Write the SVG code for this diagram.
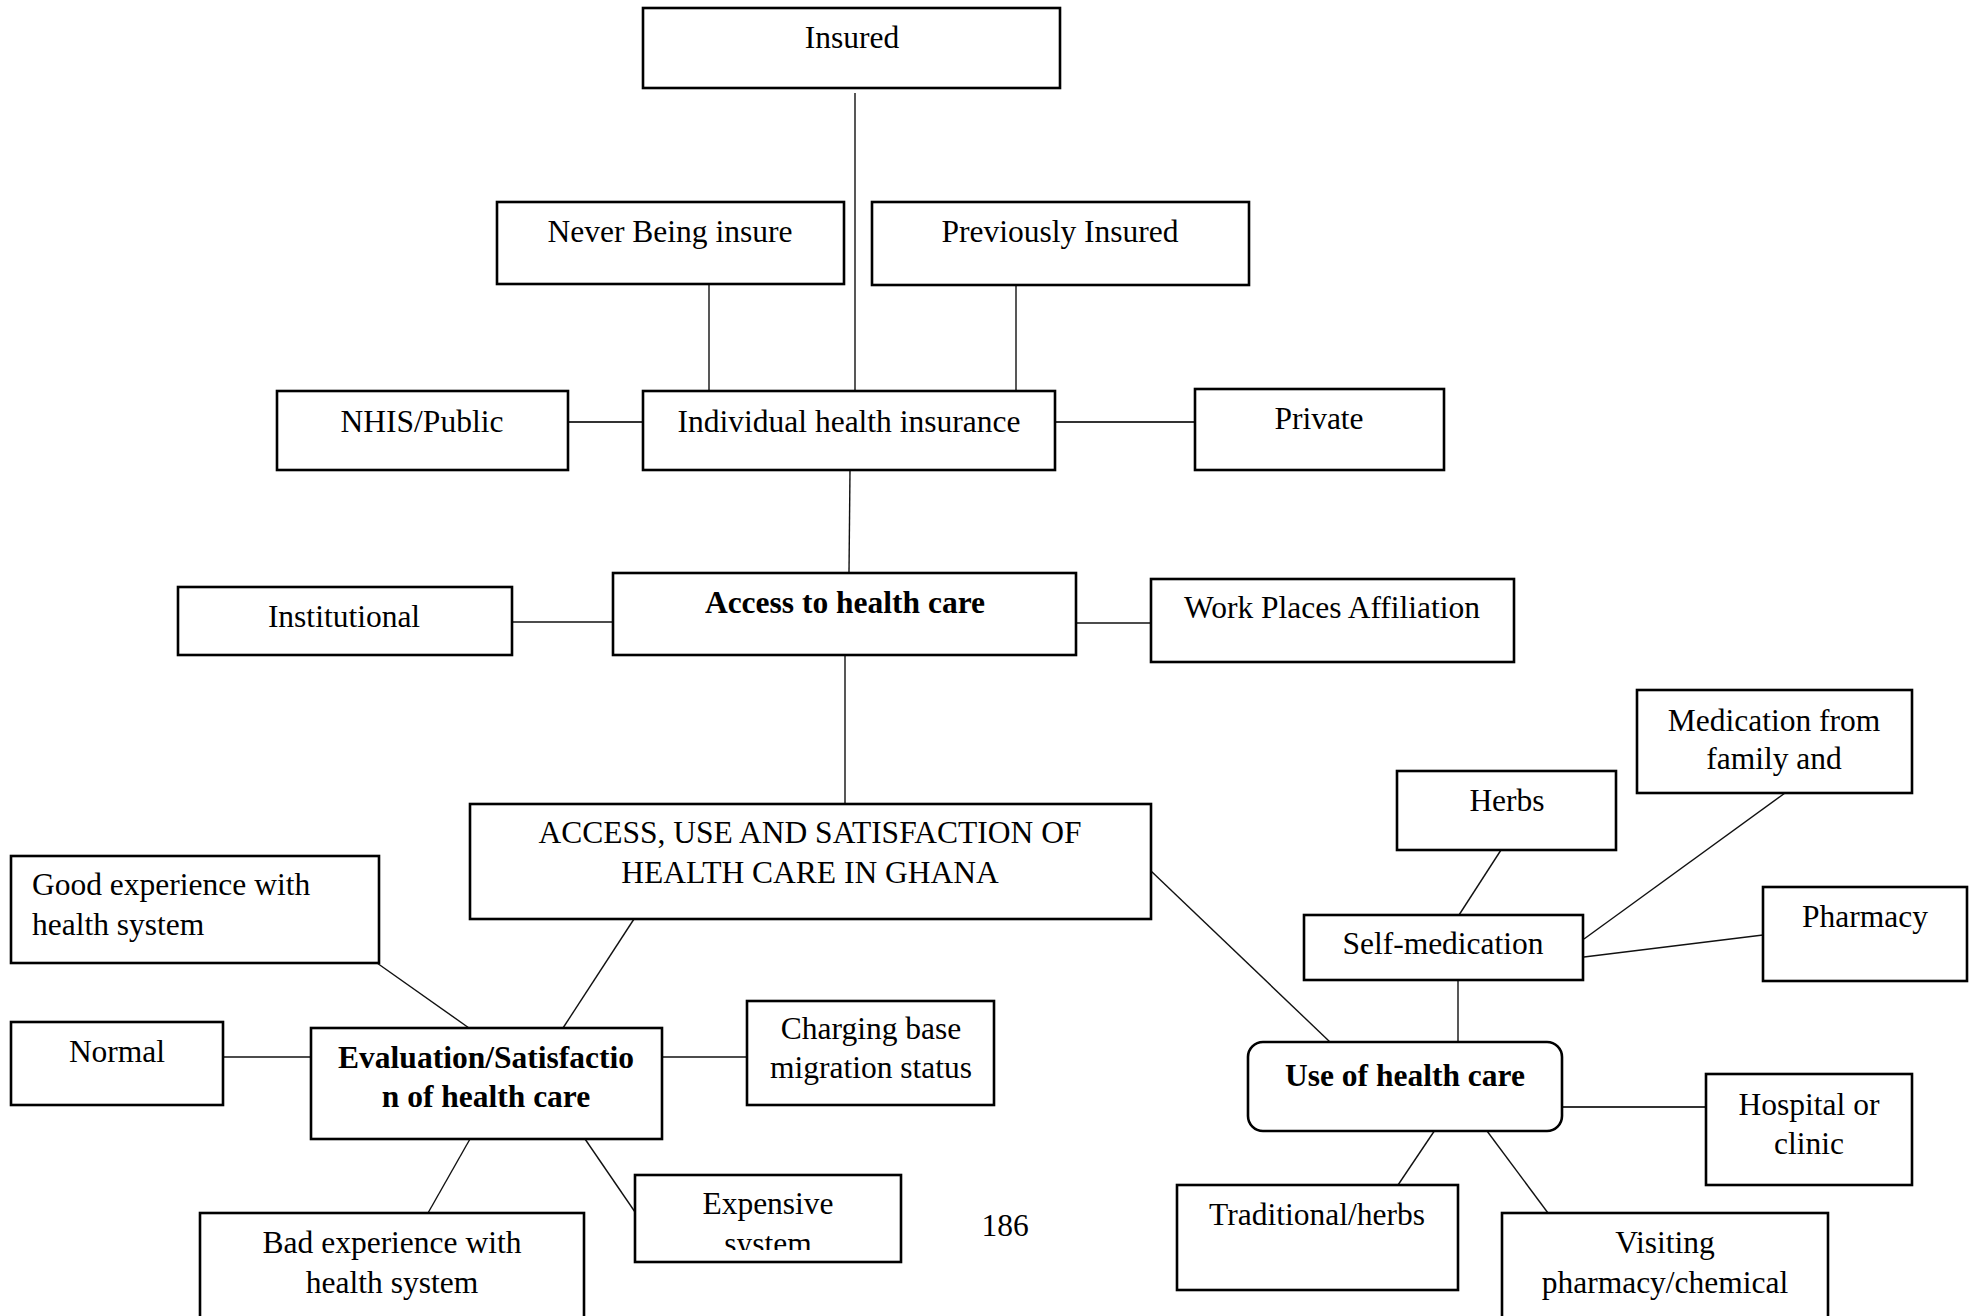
<svg xmlns="http://www.w3.org/2000/svg" width="1976" height="1316" viewBox="0 0 1976 1316">
  <style>
    .box { fill: #fff; stroke: #000; stroke-width: 2.6; }
    .t { font-family: "Liberation Serif", "Times New Roman", serif; font-size: 31.5px; fill: #000; text-anchor: middle; }
    .b { font-weight: bold; }
    .l { text-anchor: start; }
    .c line { stroke: #111; stroke-width: 1.4; }
    .c .thick { stroke: #333; stroke-width: 2; }
  </style>
  <defs>
    <clipPath id="clip-expensive">
      <rect x="635" y="1175" width="266" height="75"/>
    </clipPath>
  </defs>
  <rect width="1976" height="1316" fill="#fff"/>

  <!-- connectors -->
  <g id="connectors" class="c">
    <line x1="855" y1="93" x2="855" y2="391"/>
    <line x1="709" y1="284" x2="709" y2="391"/>
    <line x1="1016" y1="285" x2="1016" y2="391"/>
    <line class="thick" x1="568" y1="422" x2="643" y2="422"/>
    <line class="thick" x1="1055" y1="422" x2="1195" y2="422"/>
    <line x1="850" y1="470" x2="849" y2="573"/>
    <line x1="512" y1="622" x2="613" y2="622"/>
    <line x1="1076" y1="623" x2="1151" y2="623"/>
    <line x1="845" y1="655" x2="845" y2="804"/>
    <line x1="634" y1="919" x2="563" y2="1028"/>
    <line x1="1151" y1="871" x2="1330" y2="1042"/>
    <line x1="377" y1="963" x2="469" y2="1028"/>
    <line x1="223" y1="1057" x2="331" y2="1057"/>
    <line x1="662" y1="1057" x2="747" y2="1057"/>
    <line x1="470" y1="1139" x2="428" y2="1213"/>
    <line x1="585" y1="1139" x2="635" y2="1212"/>
    <line x1="1501" y1="850" x2="1459" y2="915"/>
    <line x1="1785" y1="793" x2="1584" y2="939"/>
    <line x1="1584" y1="957" x2="1763" y2="935"/>
    <line x1="1458" y1="980" x2="1458" y2="1042"/>
    <line class="thick" x1="1562" y1="1107" x2="1706" y2="1107"/>
    <line x1="1437" y1="1127" x2="1398" y2="1185"/>
    <line x1="1487" y1="1131" x2="1548" y2="1213"/>
  </g>

  <!-- insurance branch -->
  <g id="insured">
    <rect class="box" x="643" y="8" width="417" height="80"/>
    <text class="t" x="852" y="48">Insured</text>
  </g>
  <g id="never-insured">
    <rect class="box" x="497" y="202" width="347" height="82"/>
    <text class="t" x="670" y="242">Never Being insure</text>
  </g>
  <g id="previously-insured">
    <rect class="box" x="872" y="202" width="377" height="83"/>
    <text class="t" x="1060" y="242">Previously Insured</text>
  </g>
  <g id="nhis">
    <rect class="box" x="277" y="391" width="291" height="79"/>
    <text class="t" x="422" y="432">NHIS/Public</text>
  </g>
  <g id="individual">
    <rect class="box" x="643" y="391" width="412" height="79"/>
    <text class="t" x="849" y="432">Individual health insurance</text>
  </g>
  <g id="private">
    <rect class="box" x="1195" y="389" width="249" height="81"/>
    <text class="t" x="1319" y="429">Private</text>
  </g>

  <!-- access branch -->
  <g id="institutional">
    <rect class="box" x="178" y="587" width="334" height="68"/>
    <text class="t" x="344" y="627">Institutional</text>
  </g>
  <g id="access">
    <rect class="box" x="613" y="573" width="463" height="82"/>
    <text class="t b" x="845" y="613">Access to health care</text>
  </g>
  <g id="workplace">
    <rect class="box" x="1151" y="579" width="363" height="83"/>
    <text class="t" x="1332" y="618">Work Places Affiliation</text>
  </g>

  <!-- central topic -->
  <g id="topic">
    <rect class="box" x="470" y="804" width="681" height="115"/>
    <text class="t" x="810" y="843">ACCESS, USE AND SATISFACTION OF</text>
    <text class="t" x="810" y="883">HEALTH CARE IN GHANA</text>
  </g>

  <!-- satisfaction branch -->
  <g id="good-experience">
    <rect class="box" x="11" y="856" width="368" height="107"/>
    <text class="t l" x="32" y="895">Good experience with</text>
    <text class="t l" x="32" y="935">health system</text>
  </g>
  <g id="normal">
    <rect class="box" x="11" y="1022" width="212" height="83"/>
    <text class="t" x="117" y="1062">Normal</text>
  </g>
  <g id="evaluation">
    <rect class="box" x="311" y="1028" width="351" height="111"/>
    <text class="t b" x="486" y="1068">Evaluation/Satisfactio</text>
    <text class="t b" x="486" y="1107">n of health care</text>
  </g>
  <g id="charging">
    <rect class="box" x="747" y="1001" width="247" height="104"/>
    <text class="t" x="871" y="1039">Charging base</text>
    <text class="t" x="871" y="1078">migration status</text>
  </g>
  <g id="expensive">
    <rect class="box" x="635" y="1175" width="266" height="87"/>
    <text class="t" x="768" y="1214">Expensive</text>
    <text class="t" x="768" y="1254" clip-path="url(#clip-expensive)">system</text>
  </g>
  <g id="bad-experience">
    <rect class="box" x="200" y="1213" width="384" height="120"/>
    <text class="t" x="392" y="1253">Bad experience with</text>
    <text class="t" x="392" y="1293">health system</text>
  </g>

  <!-- page number -->
  <text class="t" x="1005" y="1236">186</text>

  <!-- use branch -->
  <g id="herbs">
    <rect class="box" x="1397" y="771" width="219" height="79"/>
    <text class="t" x="1507" y="811">Herbs</text>
  </g>
  <g id="family-medication">
    <rect class="box" x="1637" y="690" width="275" height="103"/>
    <text class="t" x="1774" y="731">Medication from</text>
    <text class="t" x="1774" y="769">family and</text>
  </g>
  <g id="self-medication">
    <rect class="box" x="1304" y="915" width="279" height="65"/>
    <text class="t" x="1443" y="954">Self-medication</text>
  </g>
  <g id="pharmacy">
    <rect class="box" x="1763" y="887" width="204" height="94"/>
    <text class="t" x="1865" y="927">Pharmacy</text>
  </g>
  <g id="use">
    <rect class="box" x="1248" y="1042" width="314" height="89" rx="15" ry="15"/>
    <text class="t b" x="1405" y="1086">Use of health care</text>
  </g>
  <g id="hospital">
    <rect class="box" x="1706" y="1074" width="206" height="111"/>
    <text class="t" x="1809" y="1115">Hospital or</text>
    <text class="t" x="1809" y="1154">clinic</text>
  </g>
  <g id="traditional">
    <rect class="box" x="1177" y="1185" width="281" height="105"/>
    <text class="t" x="1317" y="1225">Traditional/herbs</text>
  </g>
  <g id="visiting">
    <rect class="box" x="1502" y="1213" width="326" height="120"/>
    <text class="t" x="1665" y="1253">Visiting</text>
    <text class="t" x="1665" y="1293">pharmacy/chemical</text>
  </g>
</svg>
